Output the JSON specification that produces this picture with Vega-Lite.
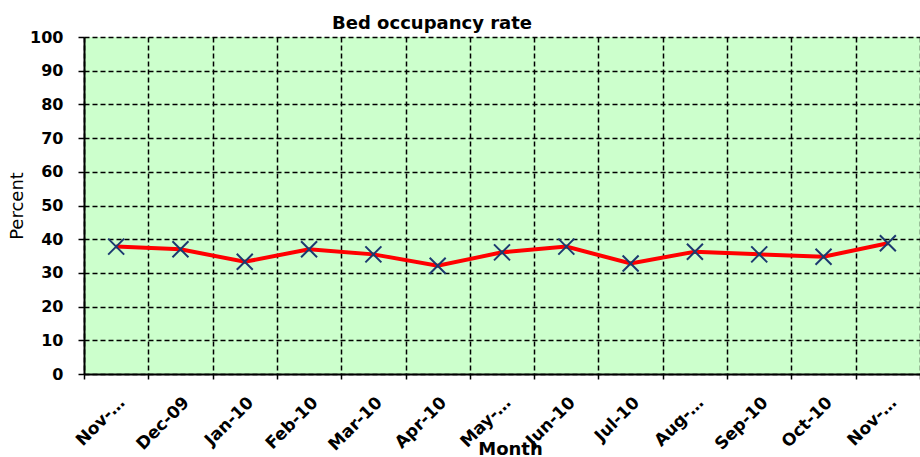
{
  "$schema": "https://vega.github.io/schema/vega-lite/v6.json",
  "autosize": "none",
  "width": 836,
  "height": 337,
  "padding": {"left": 84, "top": 37, "right": 0, "bottom": 83},
  "background": "#ffffff",
  "title": {
    "text": "Bed occupancy rate",
    "font": "DejaVu Sans",
    "fontSize": 18,
    "fontWeight": "bold",
    "color": "#000000",
    "anchor": "middle",
    "frame": "group",
    "dx": -70,
    "dy": 11,
    "offset": 7
  },
  "config": {
    "view": {"fill": "#ccffcc", "stroke": null}
  },
  "data": {
    "values": [
      {"month": "Nov-09", "value": 37.8},
      {"month": "Dec-09", "value": 37.0},
      {"month": "Jan-10", "value": 33.3},
      {"month": "Feb-10", "value": 37.0},
      {"month": "Mar-10", "value": 35.5},
      {"month": "Apr-10", "value": 32.1},
      {"month": "May-10", "value": 36.1},
      {"month": "Jun-10", "value": 37.8},
      {"month": "Jul-10", "value": 32.8},
      {"month": "Aug-10", "value": 36.3},
      {"month": "Sep-10", "value": 35.5},
      {"month": "Oct-10", "value": 34.8},
      {"month": "Nov-10", "value": 38.8}
    ]
  },
  "encoding": {
    "x": {
      "field": "month",
      "type": "ordinal",
      "sort": null,
      "scale": {"type": "band", "paddingInner": 0, "paddingOuter": 0},
      "axis": {
        "title": "Month",
        "tickBand": "extent",
        "grid": true,
        "gridColor": "#000000",
        "gridDash": [5, 3],
        "gridWidth": 1.5,
        "domainColor": "#000000",
        "domainWidth": 2,
        "tickColor": "#000000",
        "tickSize": 5,
        "tickWidth": 1.5,
        "labelAngle": -45,
        "labelFont": "DejaVu Sans",
        "labelFontSize": 17,
        "labelFontWeight": "bold",
        "labelColor": "#000000",
        "labelPadding": 15,
        "labelExpr": "datum.label == 'Nov-09' || datum.label == 'Nov-10' ? 'Nov-…' : datum.label == 'May-10' ? 'May-…' : datum.label == 'Aug-10' ? 'Aug-…' : datum.label",
        "titleFont": "DejaVu Sans",
        "titleFontSize": 18,
        "titleFontWeight": "bold",
        "titleColor": "#000000",
        "titleX": 426,
        "titleY": 66,
        "titleBaseline": "top"
      }
    },
    "y": {
      "field": "value",
      "type": "quantitative",
      "scale": {"domain": [0, 100], "nice": false},
      "axis": {
        "title": "Percent",
        "values": [0, 10, 20, 30, 40, 50, 60, 70, 80, 90, 100],
        "grid": true,
        "gridColor": "#000000",
        "gridDash": [5, 3],
        "gridWidth": 1.5,
        "domainColor": "#000000",
        "domainWidth": 2,
        "tickColor": "#000000",
        "tickSize": 6,
        "tickWidth": 1.5,
        "labelFont": "DejaVu Sans",
        "labelFontSize": 16,
        "labelFontWeight": "bold",
        "labelColor": "#000000",
        "labelPadding": 15,
        "titleFont": "DejaVu Sans",
        "titleFontSize": 18,
        "titleFontWeight": "normal",
        "titleColor": "#000000",
        "titlePadding": 3
      }
    }
  },
  "layer": [
    {
      "mark": {"type": "line", "color": "#ff0000", "strokeWidth": 4}
    },
    {
      "mark": {
        "type": "point",
        "shape": "M-1,-1L1,1M1,-1L-1,1",
        "filled": false,
        "stroke": "#1c3a70",
        "strokeWidth": 2,
        "size": 256,
        "opacity": 1
      }
    }
  ]
}
